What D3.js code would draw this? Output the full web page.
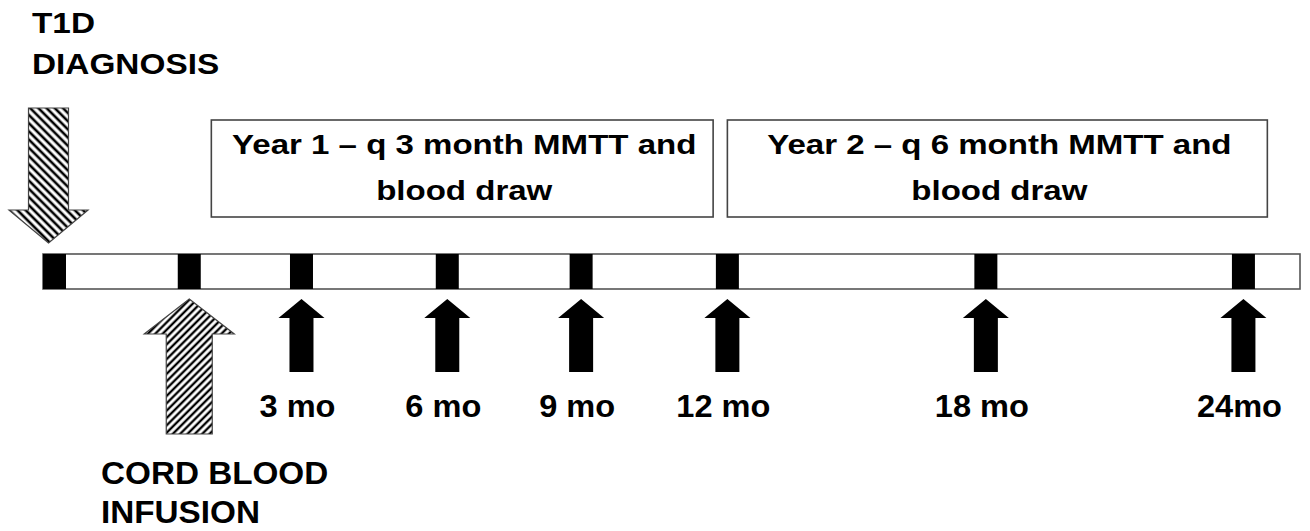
<!DOCTYPE html>
<html>
<head>
<meta charset="utf-8">
<script src="https://cdn.jsdelivr.net/npm/d3@7"></script>
<style>
  body { margin: 0; background: #fff; }
  text { font-family: "Liberation Sans", Arial, sans-serif; font-weight: bold; fill: #000; }
</style>
</head>
<body>
<svg id="chart"></svg>
<script>
// where each thing sits on the drawn (not to scale) timeline, approx. months
const timelineSpan = [-2.55, 24.78];
const diagnosisPos = -2.3;
const infusionPos = 0.63;
const visitLabels = ["3 mo", "6 mo", "9 mo", "12 mo", "18 mo", "24mo"];
const visitPos = [3.07, 6.24, 9.15, 12.33, 17.95, 23.55];
const phaseText = [
  ["Year 1 \u2013 q 3 month MMTT and", "blood draw"],
  ["Year 2 \u2013 q 6 month MMTT and", "blood draw"]
];
const phaseStart = [1.11, 12.33];
const phaseEnd = [12.02, 24.07];
const diagnosisText = ["T1D", "DIAGNOSIS"];
const infusionText = ["CORD BLOOD", "INFUSION"];

const width = 1310, height = 531;
const barTop = 254, barH = 35, blockW = 23;

const svg = d3.select("#chart").attr("width", width).attr("height", height);

const x = d3.scaleLinear().domain(timelineSpan).range([43, 1300]);

// hatch patterns
const defs = svg.append("defs");
function hatch(id, angle, size) {
  const p = defs.append("pattern")
    .attr("id", id)
    .attr("patternUnits", "userSpaceOnUse")
    .attr("width", size).attr("height", size)
    .attr("patternTransform", `rotate(${angle})`);
  p.append("rect").attr("width", size).attr("height", size).attr("fill", "#fff");
  p.append("line")
    .attr("x1", size / 2).attr("y1", 0).attr("x2", size / 2).attr("y2", size)
    .attr("stroke", "#000").attr("stroke-width", size * 0.45);
}
hatch("hatchDown", -45, 5.8);
hatch("hatchUp", 45, 5.2);

// arrow outline: tip, head base, far end of the shaft
function arrowPath(cx, tipY, headY, endY, headHalf, shaftHalf) {
  const p = d3.path();
  p.moveTo(cx, tipY);
  p.lineTo(cx + headHalf, headY);
  p.lineTo(cx + shaftHalf, headY);
  p.lineTo(cx + shaftHalf, endY);
  p.lineTo(cx - shaftHalf, endY);
  p.lineTo(cx - shaftHalf, headY);
  p.lineTo(cx - headHalf, headY);
  p.closePath();
  return p.toString();
}

// phase boxes
const phases = phaseText.map((lines, i) => ({ lines, a: phaseStart[i], b: phaseEnd[i] }));
const pg = svg.selectAll(".phase").data(phases).join("g").attr("class", "phase");
pg.append("rect")
  .attr("x", d => x(d.a)).attr("y", 120)
  .attr("width", d => x(d.b) - x(d.a)).attr("height", 97)
  .attr("fill", "#fff").attr("stroke", "#444").attr("stroke-width", 1.6);
pg.each(function(d) {
  const cx = (x(d.a) + x(d.b)) / 2 + 2;
  d3.select(this).selectAll("text").data(d.lines).join("text")
    .attr("transform", (t, j) => `translate(${cx},${154 + j * 46}) scale(1.18,1)`)
    .attr("text-anchor", "middle")
    .style("font-size", "28px")
    .text(t => t);
});

// timeline bar
svg.append("rect")
  .attr("x", x(timelineSpan[0])).attr("y", barTop)
  .attr("width", x(timelineSpan[1]) - x(timelineSpan[0])).attr("height", barH)
  .attr("fill", "#fff").attr("stroke", "#555").attr("stroke-width", 1.6);

const blockPos = [diagnosisPos, infusionPos].concat(visitPos);
svg.selectAll(".block").data(blockPos).join("rect")
  .attr("class", "block")
  .attr("x", d => x(d) - blockW / 2).attr("y", barTop)
  .attr("width", blockW).attr("height", barH)
  .attr("fill", "#000");

// visit arrows and labels
svg.selectAll(".visit").data(visitPos).join("path")
  .attr("class", "visit")
  .attr("d", d => arrowPath(x(d), 299, 318, 372, 23, 12))
  .attr("fill", "#000");

svg.selectAll(".vlabel").data(visitLabels).join("text")
  .attr("class", "vlabel")
  .attr("transform", (d, i) => `translate(${x(visitPos[i]) - 4},417) scale(1.05,1)`)
  .attr("text-anchor", "middle")
  .style("font-size", "31px")
  .text(d => d);

// diagnosis arrow (down) and infusion arrow (up)
svg.append("path")
  .attr("d", arrowPath(x(diagnosisPos) - 6, 243, 210, 108, 39.5, 20))
  .attr("fill", "url(#hatchDown)").attr("stroke", "#444").attr("stroke-width", 1.2);

svg.append("path")
  .attr("d", arrowPath(x(infusionPos), 299, 334, 434, 45, 23))
  .attr("fill", "url(#hatchUp)").attr("stroke", "#444").attr("stroke-width", 1.2);

// event captions
svg.selectAll(".diag").data(diagnosisText).join("text")
  .attr("class", "diag")
  .attr("transform", (d, i) => `translate(32,${33 + i * 41}) scale(1.15,1)`)
  .style("font-size", "29px")
  .text(d => d);

svg.selectAll(".inf").data(infusionText).join("text")
  .attr("class", "inf")
  .attr("transform", (d, i) => `translate(101,${484 + i * 39}) scale(1.04,1)`)
  .style("font-size", "32px")
  .text(d => d);
</script>
</body>
</html>
